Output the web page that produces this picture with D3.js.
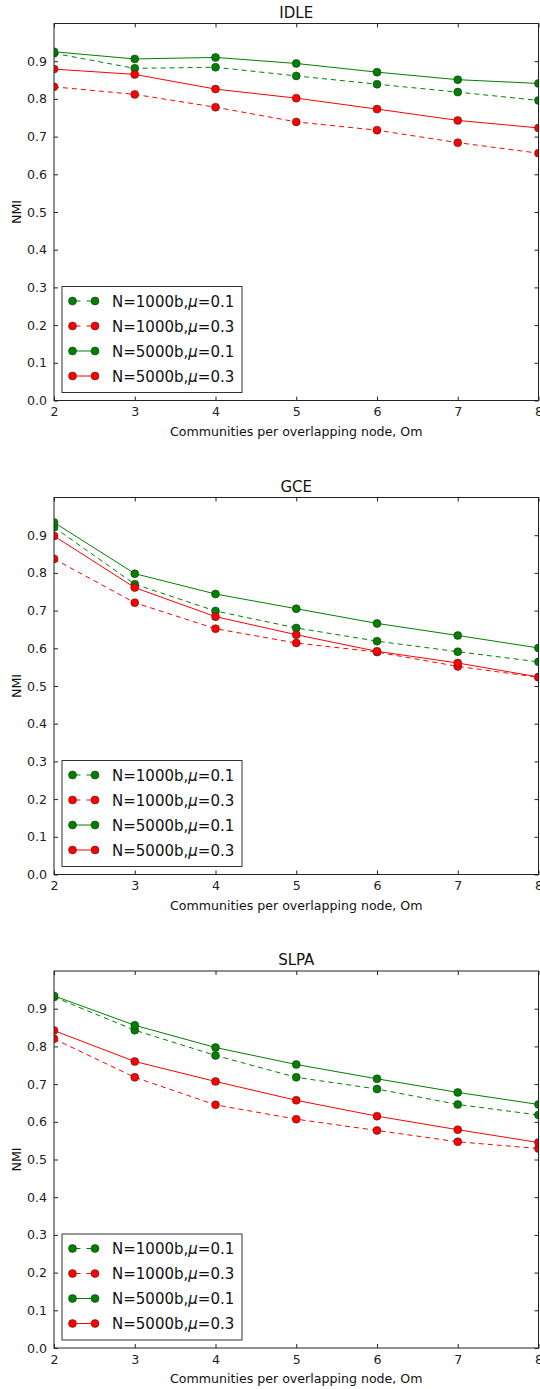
<!DOCTYPE html>
<meta charset="utf-8">
<style>
body { margin: 0; background: #fff; font-family: "DejaVu Sans", sans-serif; }
.axis text { font-family: "DejaVu Sans", sans-serif; font-size: 12.6px; fill: #222; }
.axis path, .axis line { stroke: #222; }
.series path { fill: none; stroke-width: 1; }
.series circle { stroke: #222; stroke-width: 0.5; }
</style>
<svg width="540" height="1389"></svg>
<script src="https://d3js.org/d3.v7.min.js"></script>
<script>

var om = [2, 3, 4, 5, 6, 7, 8];
var xTicks = [2, 3, 4, 5, 6, 7, 8];
var yTicks = [0, 0.1, 0.2, 0.3, 0.4, 0.5, 0.6, 0.7, 0.8, 0.9];
var titles = ["IDLE", "GCE", "SLPA"];
var seriesNames = ["N=1000b,μ=0.1", "N=1000b,μ=0.3", "N=5000b,μ=0.1", "N=5000b,μ=0.3"];

// NMI values
var idle_n1000_mu01 = [0.921, 0.881, 0.884, 0.861, 0.839, 0.818, 0.796];
var idle_n1000_mu03 = [0.832, 0.812, 0.778, 0.739, 0.717, 0.684, 0.656];
var idle_n5000_mu01 = [0.925, 0.906, 0.910, 0.894, 0.871, 0.851, 0.841];
var idle_n5000_mu03 = [0.879, 0.865, 0.826, 0.802, 0.773, 0.743, 0.723];

var gce_n1000_mu01 = [0.921, 0.770, 0.699, 0.654, 0.619, 0.591, 0.564];
var gce_n1000_mu03 = [0.837, 0.721, 0.652, 0.614, 0.590, 0.552, 0.523];
var gce_n5000_mu01 = [0.934, 0.798, 0.744, 0.705, 0.666, 0.634, 0.601];
var gce_n5000_mu03 = [0.898, 0.761, 0.684, 0.636, 0.592, 0.561, 0.524];

var slpa_n1000_mu01 = [0.931, 0.843, 0.776, 0.718, 0.687, 0.646, 0.618];
var slpa_n1000_mu03 = [0.820, 0.718, 0.645, 0.607, 0.577, 0.547, 0.529];
var slpa_n5000_mu01 = [0.934, 0.856, 0.797, 0.752, 0.714, 0.678, 0.646];
var slpa_n5000_mu03 = [0.842, 0.760, 0.707, 0.657, 0.615, 0.579, 0.545];

var panels = [
  [idle_n1000_mu01, idle_n1000_mu03, idle_n5000_mu01, idle_n5000_mu03],
  [gce_n1000_mu01, gce_n1000_mu03, gce_n5000_mu01, gce_n5000_mu03],
  [slpa_n1000_mu01, slpa_n1000_mu03, slpa_n5000_mu01, slpa_n5000_mu03]
];

var colors = ["#008000", "#ff0000", "#008000", "#ff0000"];
var dashes = ["5,4", "5,4", null, null];

var svg = d3.select("svg"),
    left = 54, width = 484.5, height = 377,
    tops = [23.5, 497.5, 971];

var x = d3.scaleLinear().domain([2, 8]).range([0, width]);
var y = d3.scaleLinear().domain([0, 1]).range([height, 0]);

var line = d3.line()
    .x(function(d, i) { return x(om[i]); })
    .y(function(d) { return y(d); });

panels.forEach(function(series, p) {
  var g = svg.append("g")
      .attr("transform", "translate(" + left + "," + tops[p] + ")");

  g.append("defs").append("clipPath").attr("id", "clip" + p)
    .append("rect").attr("width", width).attr("height", height);

  // ticks inside on all four sides
  var ax = [
    d3.axisBottom(x).tickValues(xTicks).tickSizeInner(-4).tickSizeOuter(0).tickPadding(7).tickFormat(d3.format("d")),
    d3.axisTop(x).tickValues(xTicks).tickSizeInner(-4).tickSizeOuter(0).tickFormat(""),
    d3.axisLeft(y).tickValues(yTicks).tickSizeInner(-4).tickSizeOuter(0).tickPadding(7).tickFormat(d3.format(".1f")),
    d3.axisRight(y).tickValues(yTicks).tickSizeInner(-4).tickSizeOuter(0).tickFormat("")
  ];
  g.append("g").attr("class", "axis").attr("transform", "translate(0," + height + ")").call(ax[0]);
  g.append("g").attr("class", "axis").call(ax[1]);
  g.append("g").attr("class", "axis").call(ax[2]);
  g.append("g").attr("class", "axis").attr("transform", "translate(" + width + ",0)").call(ax[3]);
  g.selectAll(".axis .domain").remove();

  var plot = g.append("g").attr("clip-path", "url(#clip" + p + ")");
  series.forEach(function(vals, s) {
    var sg = plot.append("g").attr("class", "series");
    sg.append("path")
      .datum(vals)
      .attr("d", line)
      .attr("stroke", colors[s])
      .attr("stroke-dasharray", dashes[s]);
    sg.selectAll("circle")
      .data(vals)
      .enter().append("circle")
      .attr("cx", function(d, i) { return x(om[i]); })
      .attr("cy", function(d) { return y(d); })
      .attr("r", 4)
      .attr("fill", colors[s]);
  });

  g.append("rect")
    .attr("width", width).attr("height", height)
    .attr("fill", "none").attr("stroke", "#222").attr("stroke-width", 1);

  g.append("text")
    .attr("x", width / 2).attr("y", -6)
    .attr("text-anchor", "middle")
    .style("font-size", "15px").style("fill", "#111")
    .text(titles[p]);

  g.append("text")
    .attr("x", width / 2).attr("y", height + 35)
    .attr("text-anchor", "middle")
    .style("font-size", "12.6px").style("fill", "#111")
    .text("Communities per overlapping node, Om");

  g.append("text")
    .attr("transform", "translate(" + (-33) + "," + (height / 2) + ") rotate(-90)")
    .attr("text-anchor", "middle")
    .style("font-size", "12.6px").style("fill", "#111")
    .text("NMI");

  // legend
  var lg = g.append("g").attr("transform", "translate(8," + (height - 114) + ")");
  lg.append("rect")
    .attr("width", 180).attr("height", 106)
    .attr("fill", "#fff").attr("stroke", "#333").attr("stroke-width", 1);
  seriesNames.forEach(function(name, s) {
    var row = lg.append("g").attr("class", "series")
        .attr("transform", "translate(0," + (14.5 + s * 25) + ")");
    row.append("path")
      .attr("d", "M10.5,0H33")
      .attr("stroke", colors[s])
      .attr("stroke-dasharray", dashes[s] ? "6,6" : null)
      .attr("stroke-dashoffset", -2);
    row.selectAll("circle").data([10.5, 33]).enter().append("circle")
      .attr("cx", function(d) { return d; }).attr("r", 4)
      .attr("fill", colors[s]);
    var parts = name.split("μ");
    var t = row.append("text")
      .attr("x", 50).attr("y", 5.5)
      .style("font-size", "15px").style("fill", "#111");
    t.append("tspan").text(parts[0]);
    t.append("tspan").style("font-style", "italic").text("μ");
    t.append("tspan").text(parts[1]);
  });
});

</script>
